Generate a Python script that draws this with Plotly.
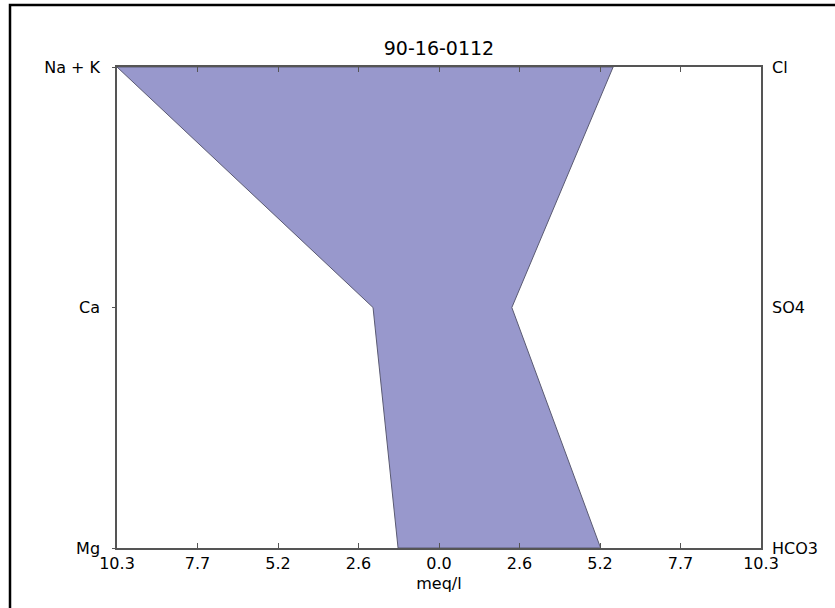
import plotly.graph_objects as go

title = "90-16-0112"
cations = ["Na + K", "Ca", "Mg"]
anions = ["Cl", "SO4", "HCO3"]
cation_vals = [10.3, 2.11, 1.31]   # meq/l, plotted on left (negative side)
anion_vals = [5.57, 2.33, 5.17]    # meq/l, plotted on right
levels = [2, 1, 0]
xmax = 10.3
tick_vals = [-10.3, -7.725, -5.15, -2.575, 0.0, 2.575, 5.15, 7.725, 10.3]
tick_text = ["10.3", "7.7", "5.2", "2.6", "0.0", "2.6", "5.2", "7.7", "10.3"]

xs = [-v for v in cation_vals] + anion_vals[::-1] + [-cation_vals[0]]
ys = levels + levels[::-1] + [levels[0]]

font = "DejaVu Sans"
axis_col = "#555555"
fs = 16

fig = go.Figure()
fig.add_trace(go.Scatter(
    x=xs, y=ys, mode="lines", fill="toself",
    fillcolor="rgb(152,152,204)",
    line=dict(color="#5a5a72", width=1),
    hoverinfo="skip", showlegend=False))
# invisible trace for right axis
fig.add_trace(go.Scatter(x=[0], y=[0], yaxis="y2", mode="markers",
                         marker=dict(opacity=0), showlegend=False, hoverinfo="skip"))

fig.update_layout(
    width=835, height=608,
    margin=dict(l=117, r=74, t=67, b=60),
    paper_bgcolor="white", plot_bgcolor="white",
    font=dict(family=font, size=fs, color="black"),
    title=dict(text=title, x=(117 + 322) / 835, xanchor="center", y=1 - 48/608, yanchor="middle",
               font=dict(size=19, family=font)),
    xaxis=dict(range=[-xmax, xmax], tickvals=tick_vals, ticktext=tick_text,
               ticks="inside", ticklen=5, tickcolor=axis_col, mirror="ticks",
               showline=True, linecolor=axis_col, linewidth=1.5,
               showgrid=False, zeroline=False,
               title=dict(text="meq/l", standoff=6, font=dict(size=fs)),
               tickfont=dict(size=fs)),
    yaxis=dict(range=[0, 2], tickvals=levels, ticktext=cations,
               ticks="outside", ticklen=3, tickcolor=axis_col,
               ticklabelstandoff=9,
               showline=True, linecolor=axis_col, linewidth=1.5, mirror=True,
               showgrid=False, zeroline=False, tickfont=dict(size=fs)),
    yaxis2=dict(range=[0, 2], tickvals=levels, ticktext=anions, overlaying="y",
                side="right", ticks="", ticklabelstandoff=10,
                showline=False, showgrid=False, zeroline=False,
                tickfont=dict(size=fs)),
)

# outer frame (left/top edge visible)
fig.add_shape(type="rect", xref="paper", yref="paper",
              x0=(10 - 117) / 644, x1=1.3, y0=-0.3, y1=1 + (67 - 5) / 481,
              line=dict(color="black", width=2.5), fillcolor="rgba(0,0,0,0)",
              layer="below")

fig.write_html("out.html",
               config={"displayModeBar": False},
               post_script="document.body.style.margin='0';document.body.style.padding='0';")
